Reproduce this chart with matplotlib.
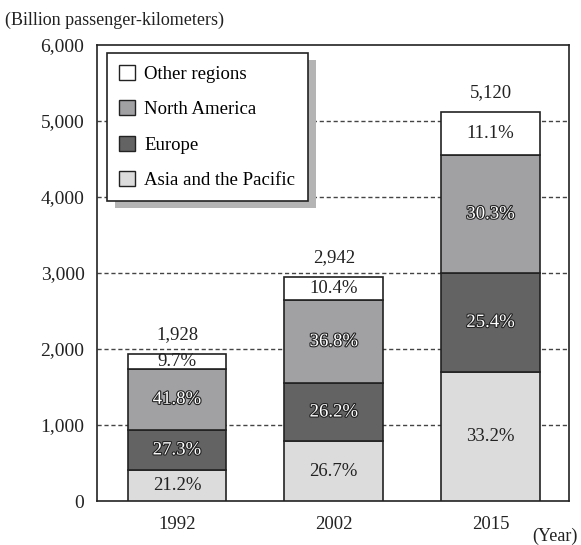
import numpy as np
import matplotlib.pyplot as plt
import matplotlib.patheffects as pe

years = ['1992', '2002', '2015']
totals = [1928, 2942, 5120]
regions = ['Asia and the Pacific', 'Europe', 'North America', 'Other regions']
shares = {
    'Asia and the Pacific': [21.2, 26.7, 33.2],
    'Europe': [27.3, 26.2, 25.4],
    'North America': [41.8, 36.8, 30.3],
    'Other regions': [9.7, 10.4, 11.1],
}
colors = {
    'Asia and the Pacific': '#dcdcdc',
    'Europe': '#636363',
    'North America': '#a1a1a4',
    'Other regions': '#ffffff',
}
# white text with dark outline on the darker segments
outlined = {'Europe', 'North America'}

plt.rcParams['font.family'] = ['Liberation Serif', 'DejaVu Serif']
fs = 13.5

fig = plt.figure(figsize=(5.81, 5.45), dpi=100)
ax = fig.add_axes([97 / 581, 44 / 545, 472 / 581, 456 / 545])

x = np.arange(len(years))
width = 0.63
bottom = np.zeros(len(years))
handles = {}
for r in regions:
    vals = np.array(totals) * np.array(shares[r]) / 100
    bars = ax.bar(x, vals, width, bottom=bottom, color=colors[r],
                  edgecolor='#222222', linewidth=1.2, zorder=3, label=r)
    handles[r] = bars
    for i, v in enumerate(vals):
        txt = '{:.1f}%'.format(shares[r][i])
        if r in outlined:
            ax.text(x[i], bottom[i] + v / 2, txt, ha='center', va='center',
                    fontsize=fs, color='white', zorder=5,
                    path_effects=[pe.withStroke(linewidth=1.6, foreground='#222222')])
        else:
            ax.text(x[i], bottom[i] + v / 2, txt, ha='center', va='center',
                    fontsize=fs, color='#222222', zorder=5)
    bottom += vals

for i, t in enumerate(totals):
    ax.annotate('{:,}'.format(t), (x[i], t), xytext=(0, 8),
                textcoords='offset points', ha='center', va='bottom',
                fontsize=fs, color='#222222')

ax.set_xlim(-0.51, 2.5)
ax.set_ylim(0, 6000)
ax.set_yticks(np.arange(0, 6001, 1000))
ax.set_yticklabels(['{:,}'.format(v) for v in range(0, 6001, 1000)])
ax.set_xticks(x)
ax.set_xticklabels(years)
ax.tick_params(axis='y', length=0, pad=9, labelsize=fs + 0.5, colors='#222222')
ax.tick_params(axis='x', length=0, pad=11, labelsize=fs, colors='#222222')
for g in range(1000, 6000, 1000):
    ax.axhline(g, color='#444444', linestyle=(0, (3, 2)), linewidth=1, zorder=1)
for s in ax.spines.values():
    s.set_color('#222222')
    s.set_linewidth(1.2)

order = ['Other regions', 'North America', 'Europe', 'Asia and the Pacific']
leg = ax.legend([handles[r] for r in order], order, loc='upper left',
                bbox_to_anchor=(10 / 472, 1 - 8 / 456), borderaxespad=0,
                fontsize=fs, frameon=True, fancybox=False,
                shadow={'ox': 6, 'oy': -5, 'facecolor': '#b4b4b4',
                        'edgecolor': 'none', 'alpha': 1},
                handlelength=0.85, handleheight=0.85, handletextpad=0.5,
                labelspacing=0.92, borderpad=0.65)
leg.get_frame().set_edgecolor('#222222')
leg.get_frame().set_linewidth(1.2)
leg.set_zorder(6)
for h in leg.legend_handles:
    h.set_edgecolor('#222222')
    h.set_linewidth(1)

fig.text(5 / 581, 1 - 20 / 545, '(Billion passenger-kilometers)', ha='left',
         va='center', fontsize=fs - 0.5, color='#222222')
fig.text(578 / 581, 1 - 536 / 545, '(Year)', ha='right', va='center',
         fontsize=fs - 0.5, color='#222222')

fig.savefig('out.png', dpi=100)
